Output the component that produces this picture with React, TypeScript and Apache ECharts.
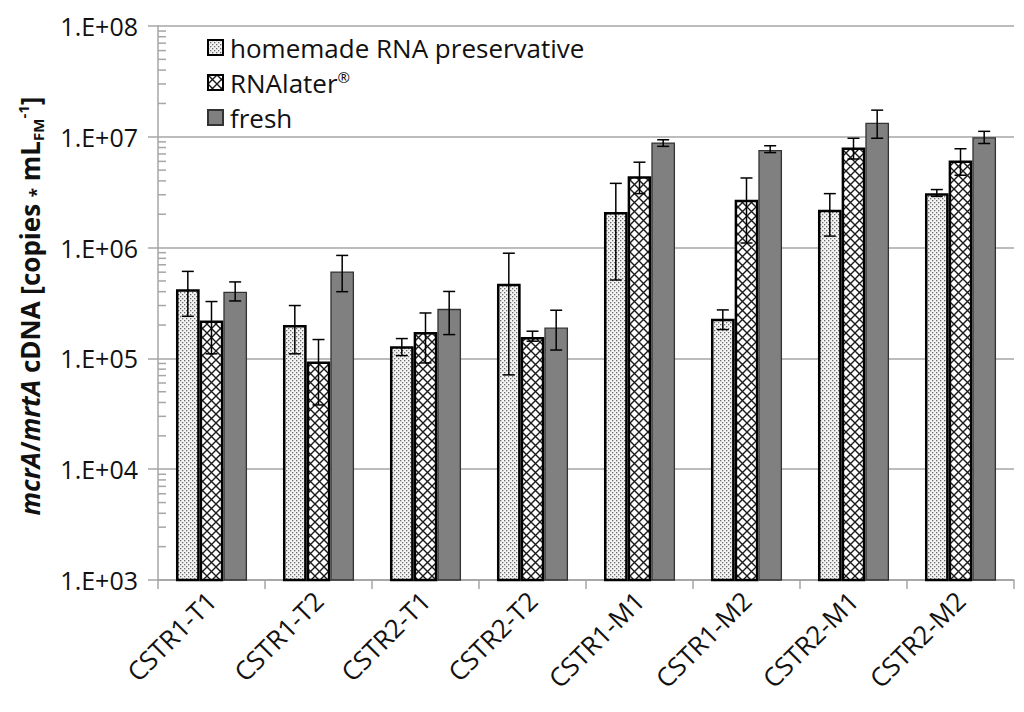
import React, { useEffect, useRef } from "react";
import * as echarts from "echarts";

const categories = ["CSTR1-T1", "CSTR1-T2", "CSTR2-T1", "CSTR2-T2", "CSTR1-M1", "CSTR1-M2", "CSTR2-M1", "CSTR2-M2"];
const seriesNames = ["homemade RNA preservative", "RNAlater®", "fresh"];

const homemade = [4.2e5, 2.0e5, 1.29e5, 4.73e5, 2.1e6, 2.28e5, 2.2e6, 3.1e6];
const homemadeLow = [2.4e5, 1.1e5, 1.06e5, 7.1e4, 5.1e5, 1.82e5, 1.27e6, 2.9e6];
const homemadeHigh = [6.1e5, 3.0e5, 1.51e5, 8.9e5, 3.8e6, 2.74e5, 3.07e6, 3.34e6];

const rnalater = [2.2e5, 9.4e4, 1.73e5, 1.56e5, 4.4e6, 2.7e6, 8.0e6, 6.1e6];
const rnalaterLow = [1.1e5, 3.8e4, 9.1e4, 1.43e5, 3.07e6, 1.1e6, 6.3e6, 4.5e6];
const rnalaterHigh = [3.26e5, 1.48e5, 2.57e5, 1.76e5, 5.9e6, 4.25e6, 9.7e6, 7.8e6];

const fresh = [4.0e5, 6.1e5, 2.8e5, 1.9e5, 8.9e6, 7.6e6, 1.34e7, 9.9e6];
const freshLow = [3.3e5, 4.0e5, 1.64e5, 1.19e5, 8.2e6, 7.2e6, 9.7e6, 8.7e6];
const freshHigh = [4.9e5, 8.5e5, 4.02e5, 2.72e5, 9.4e6, 8.3e6, 1.74e7, 1.12e7];

const yTickLabels: Record<number, string> = {
  1e3: "1.E+03", 1e4: "1.E+04", 1e5: "1.E+05", 1e6: "1.E+06", 1e7: "1.E+07", 1e8: "1.E+08",
};
const minorTickValues: number[] = [];
[1e3, 1e4, 1e5, 1e6, 1e7].forEach((d) => {
  [2, 3, 4, 5, 6, 7, 8, 9].forEach((m) => minorTickValues.push(d * m));
});

const FONT = "'Open Sans', 'Liberation Sans', sans-serif";
const CAT_GAP = 0.336;

function makeDots(): HTMLCanvasElement {
  const c = document.createElement("canvas");
  c.width = 4;
  c.height = 4;
  const ctx = c.getContext("2d")!;
  ctx.fillStyle = "#f4f4f4";
  ctx.fillRect(0, 0, 4, 4);
  ctx.fillStyle = "#6a6a6a";
  ctx.fillRect(0, 0, 1.3, 1.3);
  ctx.fillRect(2, 2, 1.3, 1.3);
  return c;
}

function makeCross(): HTMLCanvasElement {
  const c = document.createElement("canvas");
  c.width = 9;
  c.height = 9;
  const ctx = c.getContext("2d")!;
  ctx.fillStyle = "#ffffff";
  ctx.fillRect(0, 0, 9, 9);
  ctx.strokeStyle = "#1a1a1a";
  ctx.lineWidth = 1.4;
  ctx.beginPath();
  ctx.moveTo(-1, -1);
  ctx.lineTo(10, 10);
  ctx.moveTo(10, -1);
  ctx.lineTo(-1, 10);
  ctx.stroke();
  return c;
}

export default function App() {
  const ref = useRef<HTMLDivElement>(null);

  useEffect(() => {
    if (!ref.current) return;
    const chart = echarts.init(ref.current, null, { renderer: "svg" });
    const dots = makeDots();
    const cross = makeCross();

    const errData: number[][] = [];
    const lows = [homemadeLow, rnalaterLow, freshLow];
    const highs = [homemadeHigh, rnalaterHigh, freshHigh];
    for (let s = 0; s < 3; s++) {
      for (let i = 0; i < categories.length; i++) {
        errData.push([i, lows[s][i], highs[s][i], s]);
      }
    }

    const barBase = {
      type: "bar" as const,
      barGap: "0%",
      barCategoryGap: CAT_GAP * 100 + "%",
      z: 2,
    };

    const option: any = {
      animation: false,
      backgroundColor: "#ffffff",
      textStyle: { fontFamily: FONT },
      grid: { left: 158, right: 10, top: 26, bottom: 132, containLabel: false },
      legend: {
        orient: "vertical",
        left: 202,
        top: 29,
        icon: "rect",
        itemWidth: 15,
        itemHeight: 15,
        itemGap: 8,
        data: seriesNames,
        textStyle: {
          fontFamily: FONT,
          fontSize: 26,
          color: "#111111",
          lineHeight: 27,
          padding: [0, 0, 0, 2],
          rich: {
            sup: { fontSize: 15, fontFamily: FONT, color: "#111111", verticalAlign: "top", padding: [0, 0, 12, 0] },
            n: { fontSize: 26, fontFamily: FONT, color: "#111111" },
          },
        },
        formatter: (name: string) => {
          if (name === "RNAlater®") return "{n|RNAlater}{sup|®}";
          return name;
        },
      },
      xAxis: {
        type: "category",
        data: categories,
        axisLine: { lineStyle: { color: "#a6a6a6", width: 1.5 } },
        axisTick: { show: true, length: 9, lineStyle: { color: "#a6a6a6", width: 1.5 } },
        axisLabel: {
          rotate: 45,
          fontSize: 26,
          fontFamily: FONT,
          color: "#111111",
          margin: 16,
          interval: 0,
        },
      },
      yAxis: {
        type: "log",
        logBase: 10,
        min: 1e3,
        max: 1e8,
        axisLine: { show: true, lineStyle: { color: "#a6a6a6", width: 1.5 } },
        axisTick: { show: true, length: 10, lineStyle: { color: "#a6a6a6", width: 1.5 } },
        splitLine: { show: true, lineStyle: { color: "#a6a6a6", width: 1.5 } },
        axisLabel: {
          fontSize: 25,
          fontFamily: FONT,
          color: "#111111",
          margin: 20,
          formatter: (v: number) => {
            const k = Math.round(Math.log10(v));
            return yTickLabels[Math.pow(10, k)] || "";
          },
        },
      },
      graphic: [
        {
          type: "text",
          x: 30,
          y: 306,
          rotation: Math.PI / 2,
          style: {
            text: "{i|mcrA}{b|/}{i|mrtA}{b| cDNA [copies }{s|*}{b| mL}{sub|FM}{sup|-1}{b|]}",
            align: "center",
            verticalAlign: "middle",
            fill: "#111111",
            rich: {
              b: { fontFamily: FONT, fontSize: 26, fontWeight: "bold", fill: "#111111" },
              i: { fontFamily: FONT, fontSize: 26, fontWeight: "bold", fontStyle: "italic", fill: "#111111" },
              s: { fontFamily: FONT, fontSize: 17, fontWeight: "bold", fill: "#111111", padding: [12, 0, 0, 0] },
              sub: { fontFamily: FONT, fontSize: 15, fontWeight: "bold", fill: "#111111", padding: [15, 0, 0, 0] },
              sup: { fontFamily: FONT, fontSize: 15, fontWeight: "bold", fill: "#111111", padding: [0, 0, 15, 0] },
            },
          },
        },
      ],
      series: [
        {
          ...barBase,
          name: seriesNames[0],
          data: homemade,
          itemStyle: {
            color: { image: dots, repeat: "repeat", imageWidth: 4, imageHeight: 4 },
            borderColor: "#000000",
            borderWidth: 2.5,
          },
        },
        {
          ...barBase,
          name: seriesNames[1],
          data: rnalater,
          itemStyle: {
            color: { image: cross, repeat: "repeat", imageWidth: 9, imageHeight: 9 },
            borderColor: "#000000",
            borderWidth: 2.5,
          },
        },
        {
          ...barBase,
          name: seriesNames[2],
          data: fresh,
          itemStyle: { color: "#808080", borderColor: "#333333", borderWidth: 1.3 },
        },
        {
          type: "custom",
          name: "errors",
          silent: true,
          z: 5,
          data: errData,
          encode: { x: 0, y: [1, 2] },
          renderItem: (params: any, api: any) => {
            const cat = api.value(0);
            const s = api.value(3);
            const catW = api.size([1, 0])[0];
            const barW = (catW * (1 - CAT_GAP)) / 3;
            const center = api.coord([cat, api.value(1)]);
            const x = center[0] + (s - 1) * barW;
            const yLow = api.coord([cat, api.value(1)])[1];
            const yHigh = api.coord([cat, api.value(2)])[1];
            const cap = 6;
            const st = { stroke: "#000000", lineWidth: 1.5 };
            return {
              type: "group",
              children: [
                { type: "line", shape: { x1: x, y1: yLow, x2: x, y2: yHigh }, style: st },
                { type: "line", shape: { x1: x - cap, y1: yLow, x2: x + cap, y2: yLow }, style: st },
                { type: "line", shape: { x1: x - cap, y1: yHigh, x2: x + cap, y2: yHigh }, style: st },
              ],
            };
          },
        },
        {
          type: "custom",
          name: "minorTicks",
          silent: true,
          z: 1,
          data: minorTickValues.map((v) => [0, v]),
          encode: { x: 0, y: 1 },
          renderItem: (params: any, api: any) => {
            const y = api.coord([0, api.value(1)])[1];
            const x0 = params.coordSys.x;
            return {
              type: "line",
              shape: { x1: x0, y1: y, x2: x0 + 8, y2: y },
              style: { stroke: "#a6a6a6", lineWidth: 1.5 },
            };
          },
        },
      ],
    };

    chart.setOption(option);
    return () => chart.dispose();
  }, []);

  return (
    <div
      ref={ref}
      style={{ position: "absolute", left: 0, top: 0, width: 1024, height: 712, background: "#fff" }}
    />
  );
}
